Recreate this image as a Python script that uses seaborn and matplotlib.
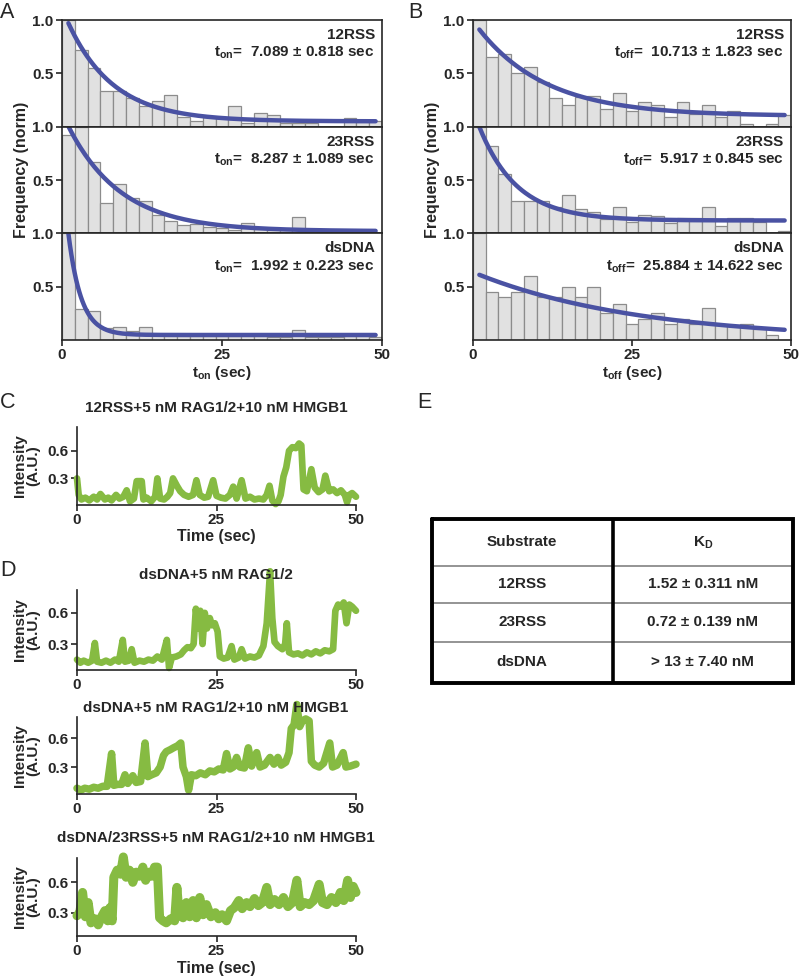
import numpy as np
import pandas as pd
import seaborn as sns
import matplotlib.pyplot as plt

# ---- data -------------------------------------------------------------
substrates = ["12RSS", "23RSS", "dsDNA"]
bin_edges = list(range(0, 52, 2))        # 2 s bins, 0-50 s
bin_mid = [e + 1 for e in bin_edges[:-1]]

# normalised dwell-time histograms (t_on), one value per bin
on_12rss = [1.0, 0.72, 0.55, 0.33, 0.33, 0.27, 0.19, 0.24, 0.30, 0.09, 0.05, 0.09, 0.08,
            0.19, 0.03, 0.13, 0.11, 0.03, 0.03, 0.03, 0.0, 0.0, 0.08, 0.06, 0.05]
on_23rss = [0.92, 1.0, 0.67, 0.28, 0.46, 0.33, 0.30, 0.17, 0.12, 0.075, 0.09, 0.06, 0.05,
            0.03, 0.10, 0.04, 0.03, 0.03, 0.15, 0.02, 0.02, 0.0, 0.0, 0.0, 0.0]
on_dsdna = [1.0, 0.29, 0.27, 0.11, 0.125, 0.08, 0.125, 0.06, 0.04, 0.04, 0.04, 0.04, 0.04,
            0.04, 0.04, 0.04, 0.03, 0.03, 0.09, 0.03, 0.03, 0.03, 0.04, 0.04, 0.03]
# normalised dwell-time histograms (t_off)
off_12rss = [1.0, 0.65, 0.68, 0.50, 0.56, 0.42, 0.27, 0.20, 0.28, 0.29, 0.17, 0.32, 0.15,
             0.23, 0.20, 0.09, 0.23, 0.12, 0.20, 0.09, 0.15, 0.025, 0.0, 0.025, 0.11]
off_23rss = [1.0, 0.82, 0.56, 0.30, 0.30, 0.30, 0.25, 0.36, 0.23, 0.20, 0.13, 0.25, 0.11,
             0.17, 0.16, 0.10, 0.14, 0.14, 0.25, 0.07, 0.14, 0.14, 0.11, 0.0, 0.025]
off_dsdna = [1.0, 0.45, 0.40, 0.45, 0.60, 0.40, 0.40, 0.50, 0.40, 0.50, 0.25, 0.34, 0.15,
             0.20, 0.25, 0.15, 0.20, 0.15, 0.30, 0.14, 0.14, 0.15, 0.10, 0.05, 0.0]

# single exponential fits: amp * exp(-t / tau) + base
on_tau = [7.089, 8.287, 1.992]
on_err = [0.818, 1.089, 0.223]
on_amp = [1.06, 1.11, 1.57]
on_base = [0.05, 0.02, 0.047]
off_tau = [10.713, 5.917, 25.884]
off_err = [1.823, 0.845, 14.622]
off_amp = [0.89, 1.04, 0.635]
off_base = [0.10, 0.12, 0.0]

# single-molecule intensity traces
c_t = [0, 0.3, 0.8, 1.5, 2.2, 3.0, 3.6, 4.2, 5.0, 5.6, 6.2, 7.0, 7.6, 8.3, 8.9, 9.5, 10.2,
       10.7, 11.0, 11.6, 11.9, 12.5, 13.3, 14.0, 14.4, 14.9, 15.6, 16.2, 16.7, 17.2, 17.9,
       18.5, 19.2, 20.0, 20.8, 21.4, 22.0, 22.8, 23.5, 24.4, 25.0, 25.8, 26.6, 27.4, 28.0,
       28.6, 29.5, 30.2, 31.0, 31.8, 32.6, 33.4, 34.0, 34.5, 35.0, 35.6, 36.1, 36.5, 37.0,
       37.5, 38.0, 38.6, 39.2, 39.8, 40.2, 40.6, 41.2, 42.0, 42.6, 43.3, 44.0, 44.5, 45.2,
       45.9, 46.6, 47.3, 48.0, 48.4, 48.8, 49.3, 50.0]
c_v = [0.30, 0.12, 0.07, 0.09, 0.06, 0.10, 0.07, 0.13, 0.07, 0.09, 0.06, 0.12, 0.08, 0.10,
       0.17, 0.05, 0.08, 0.27, 0.27, 0.27, 0.07, 0.09, 0.05, 0.10, 0.30, 0.08, 0.07, 0.10,
       0.14, 0.30, 0.22, 0.16, 0.12, 0.10, 0.12, 0.28, 0.12, 0.09, 0.10, 0.28, 0.11, 0.09,
       0.08, 0.12, 0.21, 0.08, 0.28, 0.08, 0.10, 0.07, 0.08, 0.07, 0.12, 0.22, 0.06, 0.02,
       0.05, 0.12, 0.32, 0.42, 0.60, 0.64, 0.63, 0.68, 0.66, 0.18, 0.16, 0.40, 0.20, 0.15,
       0.18, 0.33, 0.16, 0.18, 0.14, 0.17, 0.12, 0.04, 0.12, 0.14, 0.10]

d1_t = [0, 0.6, 1.2, 2.0, 2.7, 3.2, 3.6, 4.4, 5.2, 6.0, 6.8, 7.5, 8.2, 8.6, 9.3, 9.8, 10.3,
        11.2, 12.0, 12.8, 13.6, 14.4, 15.2, 16.1, 16.5, 17.0, 17.8, 18.6, 19.2, 19.8, 20.4,
        20.9, 21.3, 21.7, 22.1, 22.5, 22.9, 23.3, 23.8, 24.2, 24.7, 25.2, 25.6, 26.3, 27.0,
        27.7, 28.2, 29.0, 29.5, 30.1, 31.0, 31.8, 32.6, 33.4, 34.0, 34.6, 35.0, 35.4, 36.0,
        36.8, 37.3, 37.6, 38.0, 38.8, 39.6, 40.4, 41.2, 42.0, 42.8, 43.6, 44.4, 45.2, 45.9,
        46.3, 46.8, 47.3, 47.8, 48.3, 48.8, 49.3, 50.0]
d1_v = [0.15, 0.12, 0.14, 0.12, 0.14, 0.31, 0.13, 0.12, 0.14, 0.12, 0.15, 0.13, 0.34, 0.13,
        0.14, 0.25, 0.12, 0.14, 0.13, 0.15, 0.14, 0.18, 0.15, 0.34, 0.07, 0.17, 0.18, 0.20,
        0.24, 0.27, 0.26, 0.30, 0.64, 0.45, 0.62, 0.30, 0.60, 0.45, 0.55, 0.48, 0.50, 0.42,
        0.18, 0.16, 0.17, 0.28, 0.15, 0.17, 0.25, 0.16, 0.18, 0.17, 0.19, 0.28, 0.50, 1.00,
        0.55, 0.32, 0.28, 0.25, 0.30, 0.50, 0.22, 0.20, 0.21, 0.19, 0.22, 0.20, 0.23, 0.21,
        0.24, 0.23, 0.25, 0.62, 0.68, 0.66, 0.70, 0.50, 0.68, 0.66, 0.62]

d2_t = [0, 0.7, 1.4, 2.2, 3.0, 3.8, 4.6, 5.4, 6.2, 6.6, 7.3, 8.0, 8.6, 9.1, 10.0, 10.6, 11.4,
        12.2, 12.7, 13.4, 14.2, 14.9, 15.5, 16.0, 16.7, 17.3, 18.0, 18.6, 19.0, 19.6, 20.0,
        20.5, 21.3, 22.1, 23.0, 23.8, 24.6, 25.4, 26.2, 26.8, 27.4, 28.0, 28.6, 29.2, 30.0,
        30.7, 31.3, 32.2, 32.8, 33.6, 34.6, 35.3, 36.0, 36.6, 37.4, 38.0, 38.4, 38.9, 39.4,
        39.9, 40.4, 41.0, 41.6, 42.0, 42.6, 43.4, 44.2, 45.3, 45.8, 46.6, 47.7, 48.2, 49.0,
        50.0]
d2_v = [0.08, 0.06, 0.08, 0.07, 0.09, 0.08, 0.10, 0.10, 0.44, 0.11, 0.12, 0.12, 0.22, 0.13,
        0.21, 0.14, 0.15, 0.55, 0.20, 0.22, 0.24, 0.30, 0.42, 0.46, 0.48, 0.50, 0.52, 0.55,
        0.30, 0.20, 0.06, 0.22, 0.21, 0.24, 0.22, 0.26, 0.25, 0.28, 0.27, 0.44, 0.28, 0.30,
        0.40, 0.30, 0.29, 0.50, 0.31, 0.45, 0.30, 0.32, 0.40, 0.33, 0.40, 0.32, 0.35, 0.45,
        0.70, 0.74, 0.95, 0.72, 0.78, 0.80, 0.78, 0.36, 0.32, 0.30, 0.34, 0.55, 0.30, 0.32,
        0.45, 0.30, 0.31, 0.33]

d3_t = [0, 0.5, 1.0, 1.5, 2.0, 2.5, 3.2, 3.8, 4.4, 5.0, 5.5, 5.9, 6.3, 6.6, 7.2, 7.8, 8.3,
        8.8, 9.4, 10.0, 10.6, 11.2, 11.8, 12.3, 12.9, 13.4, 13.9, 14.4, 14.8, 15.4, 16.0,
        16.8, 17.5, 17.9, 18.3, 19.0, 19.6, 20.2, 20.8, 21.4, 22.0, 22.6, 23.2, 24.0, 24.8,
        25.4, 26.0, 26.8, 27.5, 28.2, 29.0, 29.6, 30.4, 31.0, 31.8, 32.5, 33.2, 34.0, 34.6,
        35.4, 36.2, 37.0, 37.8, 38.6, 39.4, 40.0, 40.8, 41.6, 42.4, 43.4, 44.0, 44.8, 45.6,
        46.4, 47.2, 47.8, 48.5, 49.0, 49.5, 50.0]
d3_v = [0.27, 0.30, 0.50, 0.26, 0.40, 0.20, 0.24, 0.18, 0.26, 0.32, 0.22, 0.35, 0.22, 0.65,
        0.72, 0.68, 0.85, 0.65, 0.72, 0.60, 0.70, 0.66, 0.75, 0.62, 0.70, 0.66, 0.75, 0.75,
        0.25, 0.22, 0.20, 0.24, 0.22, 0.55, 0.28, 0.25, 0.40, 0.26, 0.42, 0.25, 0.45, 0.28,
        0.38, 0.26, 0.30, 0.24, 0.28, 0.22, 0.32, 0.35, 0.42, 0.34, 0.40, 0.36, 0.44, 0.37,
        0.40, 0.55, 0.38, 0.43, 0.38, 0.45, 0.36, 0.40, 0.62, 0.36, 0.40, 0.38, 0.42, 0.58,
        0.40, 0.38, 0.45, 0.40, 0.50, 0.42, 0.62, 0.45, 0.56, 0.50]

trace_titles = ["12RSS+5 nM RAG1/2+10 nM HMGB1", "dsDNA+5 nM RAG1/2",
                "dsDNA+5 nM RAG1/2+10 nM HMGB1", "dsDNA/23RSS+5 nM RAG1/2+10 nM HMGB1"]

table_header = ["Substrate", "K$_\\mathbf{D}$"]
table_kd = ["1.52 \u00b1 0.311 nM", "0.72 \u00b1 0.139 nM", "> 13 \u00b1 7.40 nM"]

# ---- style ------------------------------------------------------------
sns.set_theme(style="ticks")
plt.rcParams["font.family"] = ["Liberation Sans", "DejaVu Sans"]
plt.rcParams["font.weight"] = "bold"
plt.rcParams["axes.labelweight"] = "bold"
plt.rcParams["mathtext.fontset"] = "custom"
plt.rcParams["mathtext.rm"] = "Liberation Sans:bold"
plt.rcParams["mathtext.it"] = "Liberation Sans:bold"
plt.rcParams["mathtext.bf"] = "Liberation Sans:bold"
plt.rcParams["axes.linewidth"] = 1.2
plt.rcParams["xtick.major.width"] = 1.2
plt.rcParams["ytick.major.width"] = 1.2
plt.rcParams["xtick.major.size"] = 4
plt.rcParams["ytick.major.size"] = 4

bar_face = "#E1E1E1"
bar_edge = "#8C8C8C"
fit_blue = "#4A52A3"
green = "#86BB42"
FS = 11

W, H = 800, 977
fig = plt.figure(figsize=(W / 100, H / 100), dpi=100)


def box(x0, y0, x1, y1):
    return fig.add_axes([x0 / W, 1 - y1 / H, (x1 - x0) / W, (y1 - y0) / H])


def letter(x, y, s):
    fig.text(x / W, 1 - y / H, s, fontsize=15.5, fontweight="normal", va="center", ha="left")


# ---- A and B: dwell-time histograms ------------------------------------
panels = [
    (62, 382, [on_12rss, on_23rss, on_dsdna], on_tau, on_err, on_amp, on_base, "on"),
    (473, 791, [off_12rss, off_23rss, off_dsdna], off_tau, off_err, off_amp, off_base, "off"),
]
row_y = [20, 126.7, 233.3, 340]
tt = np.linspace(1, 49, 200)

for x0, x1, hists, taus, errs, amps, bases, sub in panels:
    for i in range(3):
        ax = box(x0, row_y[i], x1, row_y[i + 1])
        hdf = pd.DataFrame({"t": bin_mid, "w": hists[i]})
        sns.histplot(data=hdf, x="t", weights="w", bins=bin_edges, ax=ax, color=bar_face,
                     edgecolor=bar_edge, linewidth=0.9, alpha=1)
        fit = amps[i] * np.exp(-tt / taus[i]) + bases[i]
        sns.lineplot(x=tt, y=fit, ax=ax, color=fit_blue, linewidth=3.2)
        ax.set_xlim(0, 50)
        ax.set_ylim(0, 1.0)
        ax.set_yticks([0.5, 1.0])
        ax.set_yticklabels(["0.5", "1.0"])
        ax.set_xticks([0, 25, 50])
        ax.set_xlabel("")
        ax.set_ylabel("")
        ax.tick_params(labelsize=FS, pad=2)
        if i < 2:
            ax.tick_params(axis="x", bottom=False, labelbottom=False)
        else:
            ax.set_xlabel(f"t$_{{\\mathbf{{{sub}}}}}$ (sec)", fontsize=11, labelpad=1)
        ax.text(0.978, 0.86, substrates[i], transform=ax.transAxes, ha="right",
                va="center", fontsize=FS, fontweight="bold")
        ax.text(0.978, 0.69,
                f"t$_{{\\mathbf{{{sub}}}}}$=  {taus[i]:.3f} \u00b1 {errs[i]:.3f} sec",
                transform=ax.transAxes, ha="right", va="center", fontsize=FS,
                fontweight="bold")
    fig.text((x0 - 40) / W, 1 - 170 / H, "Frequency (norm)", rotation=90, ha="center",
             va="center", fontsize=11.5, fontweight="bold")

letter(0, 13, "A")
letter(408, 13, "B")

# ---- C and D: intensity traces -----------------------------------------
traces = [
    (c_t, c_v, 427, 505, (0.01, 0.86), 4.8),
    (d1_t, d1_v, 590, 670, (0.05, 0.82), 4.8),
    (d2_t, d2_v, 717, 794, (0.02, 0.82), 5.4),
    (d3_t, d3_v, 858, 936, (0.07, 0.84), 6.5),
]
title_y = [408, 575, 708, 838]

for k, (t, v, y0, y1, ylim, lw) in enumerate(traces):
    ax = box(77, y0, 356, y1)
    sns.lineplot(x=t, y=v, ax=ax, color=green, linewidth=lw, sort=False,
                 estimator=None, clip_on=False)
    ax.set_xlim(0, 50)
    ax.set_ylim(*ylim)
    ax.set_xticks([0, 25, 50])
    ax.set_yticks([0.3, 0.6])
    ax.set_yticklabels(["0.3", "0.6"])
    ax.set_xlabel("")
    ax.set_ylabel("")
    ax.tick_params(labelsize=FS, pad=2)
    sns.despine(ax=ax)
    fig.text(216 / W, 1 - title_y[k] / H, trace_titles[k], ha="center", va="center",
             fontsize=FS, fontweight="bold")
    fig.text(27 / W, 1 - (y0 + y1) / 2 / H, "Intensity\n(A.U.)", rotation=90,
             ha="center", va="center", fontsize=FS, fontweight="bold",
             multialignment="center", linespacing=0.95)

fig.text(216 / W, 1 - 537 / H, "Time (sec)", ha="center", va="center", fontsize=11.5,
         fontweight="bold")
fig.text(216 / W, 1 - 968 / H, "Time (sec)", ha="center", va="center", fontsize=11.5,
         fontweight="bold")

letter(0, 402, "C")
letter(0, 570, "D")

# ---- E: dissociation constants table ------------------------------------
tax = box(432, 519, 793, 683)
tax.set_xlim(0, 1)
tax.set_ylim(1, 0)
tax.axis("off")
row_lines = [47 / 164, 84 / 164, 123 / 164]
row_mid = [23.5 / 164, 65.5 / 164, 103.5 / 164, 143.5 / 164]
for yl in row_lines:
    tax.plot([0, 1], [yl, yl], color="#777777", linewidth=1.1)
tax.plot([0.5, 0.5], [0, 1], color="black", linewidth=2.6)
tax.plot([0, 1, 1, 0, 0], [0, 0, 1, 1, 0], color="black", linewidth=2.8,
         solid_joinstyle="miter", clip_on=False)
tax.text(0.25, row_mid[0], table_header[0], ha="center", va="center", fontsize=FS,
         fontweight="bold")
tax.text(0.75, row_mid[0], table_header[1], ha="center", va="center", fontsize=FS,
         fontweight="bold")
for r in range(3):
    tax.text(0.25, row_mid[r + 1], substrates[r], ha="center", va="center", fontsize=FS,
             fontweight="bold")
    tax.text(0.75, row_mid[r + 1], table_kd[r], ha="center", va="center", fontsize=FS,
             fontweight="bold")

letter(417, 402, "E")

fig.savefig("out.png", dpi=100)
